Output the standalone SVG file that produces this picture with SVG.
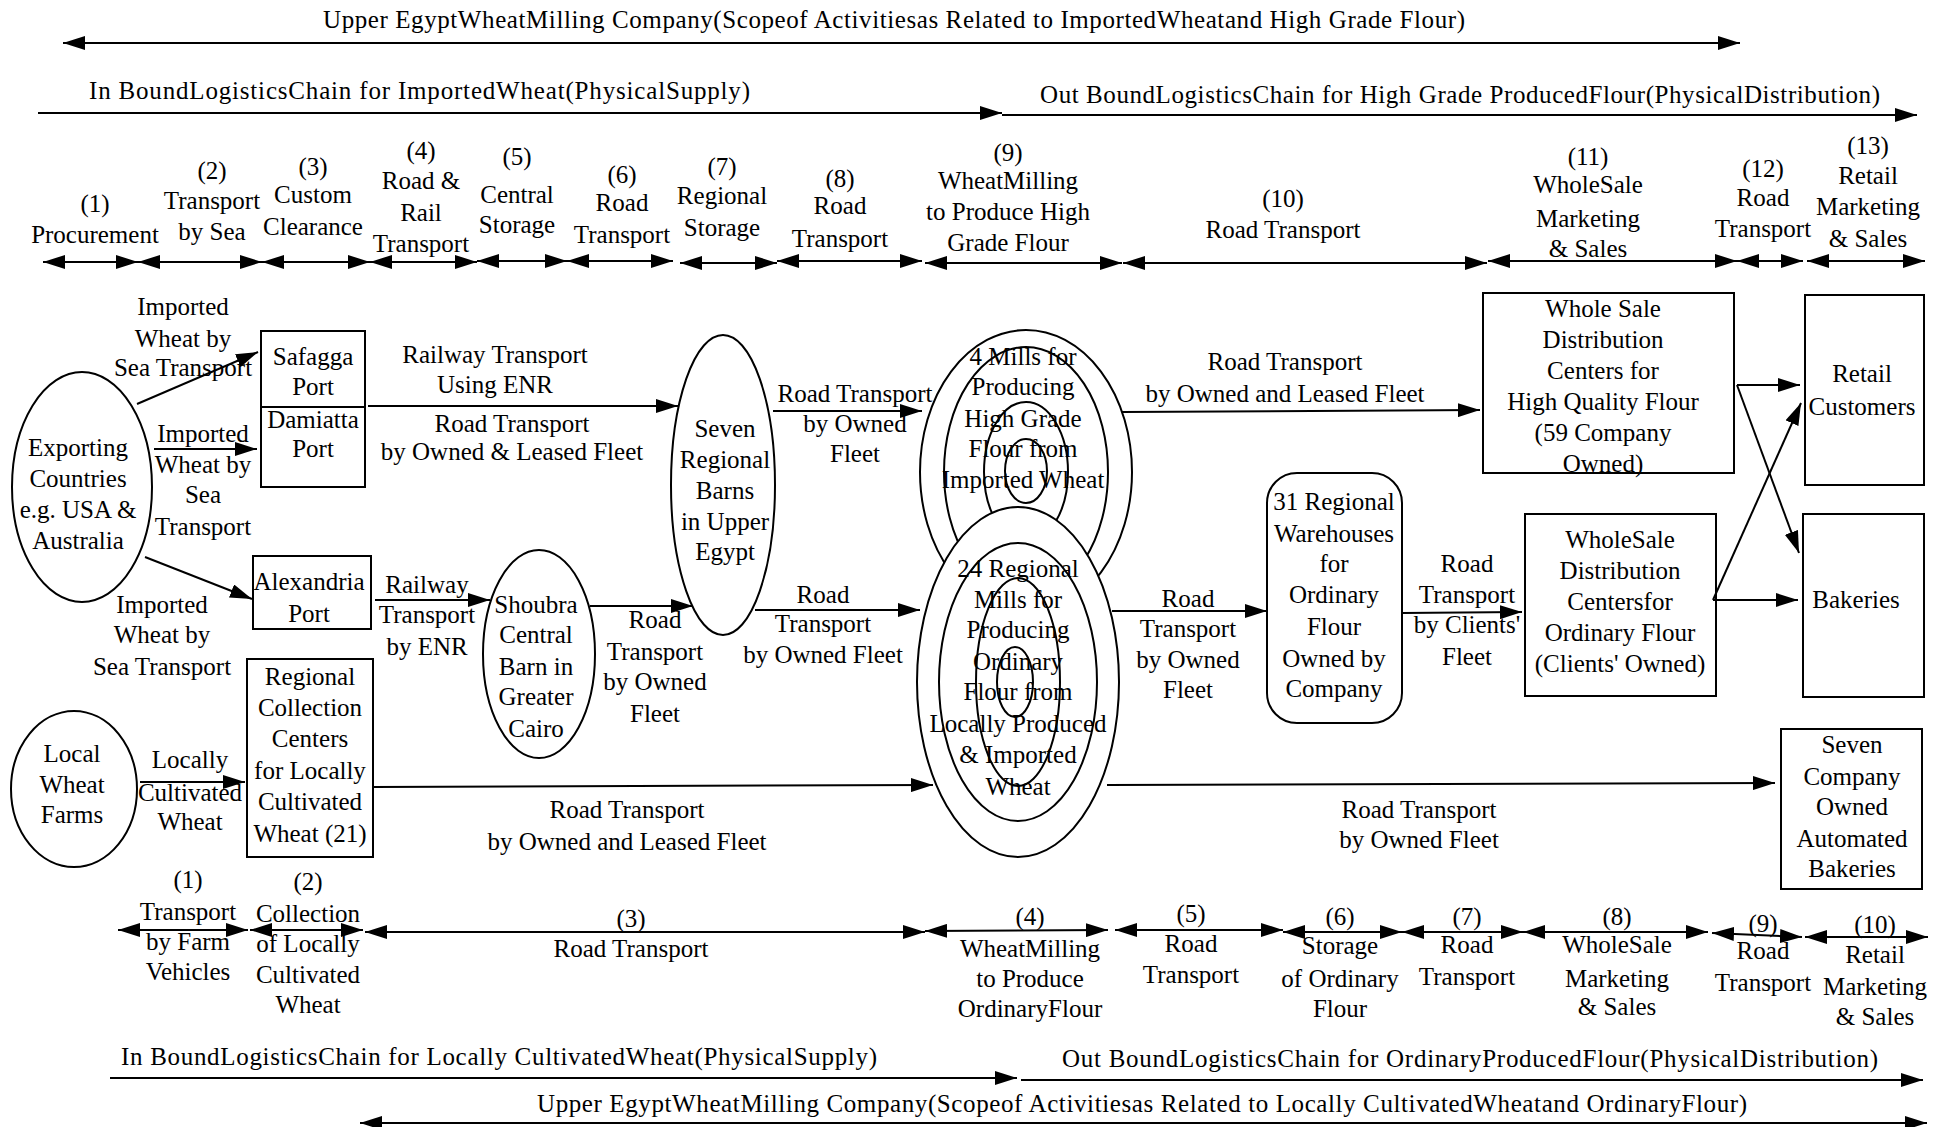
<svg xmlns="http://www.w3.org/2000/svg" width="1950" height="1127" viewBox="0 0 1950 1127">
<defs>
<style>
text{font-family:"Liberation Serif","Times New Roman",serif;font-size:25px;fill:#000;text-anchor:middle}
.st{text-anchor:start}
.ln{fill:none;stroke:#000;stroke-width:2}
.nd{fill:#fff;stroke:#000;stroke-width:2}
.rg{fill:none;stroke:#000;stroke-width:2}
.a{marker-end:url(#ah)}
.aa{marker-start:url(#ah);marker-end:url(#ah)}
</style>
<marker id="ah" markerUnits="userSpaceOnUse" markerWidth="22" markerHeight="14" refX="22" refY="7" orient="auto-start-reverse">
<path d="M0,0 L22,7 L0,14 z" fill="#000"/>
</marker>
</defs>
<rect width="1950" height="1127" fill="#fff"/>

<g id="titles">
<text class="st" x="323" y="28" textLength="1142" lengthAdjust="spacing">Upper EgyptWheatMilling Company(Scopeof Activitiesas Related to ImportedWheatand High Grade Flour)</text>
<text class="st" x="89" y="99" textLength="661" lengthAdjust="spacing">In BoundLogisticsChain for ImportedWheat(PhysicalSupply)</text>
<text class="st" x="1040" y="103" textLength="840" lengthAdjust="spacing">Out BoundLogisticsChain for High Grade ProducedFlour(PhysicalDistribution)</text>
<text class="st" x="121" y="1065" textLength="756" lengthAdjust="spacing">In BoundLogisticsChain for Locally CultivatedWheat(PhysicalSupply)</text>
<text class="st" x="1062" y="1067" textLength="816" lengthAdjust="spacing">Out BoundLogisticsChain for OrdinaryProducedFlour(PhysicalDistribution)</text>
<text class="st" x="537" y="1112" textLength="1210" lengthAdjust="spacing">Upper EgyptWheatMilling Company(Scopeof Activitiesas Related to Locally CultivatedWheatand OrdinaryFlour)</text>
</g>

<g id="stages-top">
<text x="95"><tspan x="95" y="212">(1)</tspan><tspan x="95" y="243">Procurement</tspan></text>
<text><tspan x="212" y="179">(2)</tspan><tspan x="212" y="209">Transport</tspan><tspan x="212" y="240">by Sea</tspan></text>
<text><tspan x="313" y="175">(3)</tspan><tspan x="313" y="203">Custom</tspan><tspan x="313" y="235">Clearance</tspan></text>
<text><tspan x="421" y="159">(4)</tspan><tspan x="421" y="189">Road &amp;</tspan><tspan x="421" y="221">Rail</tspan><tspan x="421" y="252">Transport</tspan></text>
<text><tspan x="517" y="165">(5)</tspan><tspan x="517" y="203">Central</tspan><tspan x="517" y="233">Storage</tspan></text>
<text><tspan x="622" y="183">(6)</tspan><tspan x="622" y="211">Road</tspan><tspan x="622" y="243">Transport</tspan></text>
<text><tspan x="722" y="175">(7)</tspan><tspan x="722" y="204">Regional</tspan><tspan x="722" y="236">Storage</tspan></text>
<text><tspan x="840" y="187">(8)</tspan><tspan x="840" y="214">Road</tspan><tspan x="840" y="247">Transport</tspan></text>
<text><tspan x="1008" y="161">(9)</tspan><tspan x="1008" y="189">WheatMilling</tspan><tspan x="1008" y="220">to Produce High</tspan><tspan x="1008" y="251">Grade Flour</tspan></text>
<text><tspan x="1283" y="207">(10)</tspan><tspan x="1283" y="238">Road  Transport</tspan></text>
<text><tspan x="1588" y="165">(11)</tspan><tspan x="1588" y="193">WholeSale</tspan><tspan x="1588" y="227">Marketing</tspan><tspan x="1588" y="257">&amp; Sales</tspan></text>
<text><tspan x="1763" y="177">(12)</tspan><tspan x="1763" y="206">Road</tspan><tspan x="1763" y="237">Transport</tspan></text>
<text><tspan x="1868" y="154">(13)</tspan><tspan x="1868" y="184">Retail</tspan><tspan x="1868" y="215">Marketing</tspan><tspan x="1868" y="247">&amp; Sales</tspan></text>
</g>

<g id="stages-bottom">
<text><tspan x="188" y="888">(1)</tspan><tspan x="188" y="920">Transport</tspan><tspan x="188" y="950">by Farm</tspan><tspan x="188" y="980">Vehicles</tspan></text>
<text><tspan x="308" y="890">(2)</tspan><tspan x="308" y="922">Collection</tspan><tspan x="308" y="952">of Locally</tspan><tspan x="308" y="983">Cultivated</tspan><tspan x="308" y="1013">Wheat</tspan></text>
<text><tspan x="631" y="927">(3)</tspan><tspan x="631" y="957">Road  Transport</tspan></text>
<text><tspan x="1030" y="925">(4)</tspan><tspan x="1030" y="957">WheatMilling</tspan><tspan x="1030" y="987">to Produce</tspan><tspan x="1030" y="1017">OrdinaryFlour</tspan></text>
<text><tspan x="1191" y="922">(5)</tspan><tspan x="1191" y="952">Road</tspan><tspan x="1191" y="983">Transport</tspan></text>
<text><tspan x="1340" y="925">(6)</tspan><tspan x="1340" y="954">Storage</tspan><tspan x="1340" y="987">of Ordinary</tspan><tspan x="1340" y="1017">Flour</tspan></text>
<text><tspan x="1467" y="925">(7)</tspan><tspan x="1467" y="953">Road</tspan><tspan x="1467" y="985">Transport</tspan></text>
<text><tspan x="1617" y="925">(8)</tspan><tspan x="1617" y="953">WholeSale</tspan><tspan x="1617" y="987">Marketing</tspan><tspan x="1617" y="1015">&amp; Sales</tspan></text>
<text><tspan x="1763" y="932">(9)</tspan><tspan x="1763" y="959">Road</tspan><tspan x="1763" y="991">Transport</tspan></text>
<text><tspan x="1875" y="933">(10)</tspan><tspan x="1875" y="963">Retail</tspan><tspan x="1875" y="995">Marketing</tspan><tspan x="1875" y="1025">&amp; Sales</tspan></text>
</g>

<g id="n-mills-high">
<ellipse class="nd" cx="1026" cy="472" rx="106" ry="142"/>
<ellipse class="rg" cx="1026" cy="472" rx="82" ry="125"/>
<ellipse class="rg" cx="1026" cy="472" rx="42" ry="70"/>
<ellipse class="rg" cx="1026" cy="471" rx="21" ry="32"/>
<text><tspan x="1023" y="365">4 Mills for</tspan><tspan x="1023" y="395">Producing</tspan><tspan x="1023" y="427">High Grade</tspan><tspan x="1023" y="457">Flour from</tspan><tspan x="1023" y="488">Imported Wheat</tspan></text>
</g>

<g id="n-mills-ordinary">
<ellipse class="nd" cx="1018" cy="682" rx="101" ry="175"/>
<ellipse class="rg" cx="1018" cy="682" rx="79" ry="139"/>
<ellipse class="rg" cx="1018" cy="682" rx="42" ry="104"/>
<ellipse class="rg" cx="1015" cy="682" rx="18" ry="35"/>
<text><tspan x="1018" y="577">24 Regional</tspan><tspan x="1018" y="608">Mills for</tspan><tspan x="1018" y="638">Producing</tspan><tspan x="1018" y="670">Ordinary</tspan><tspan x="1018" y="700">Flour from</tspan><tspan x="1018" y="732">Locally Produced</tspan><tspan x="1018" y="763">&amp; Imported</tspan><tspan x="1018" y="795">Wheat</tspan></text>
</g>

<g id="n-exporting">
<ellipse class="nd" cx="82" cy="487" rx="70" ry="115"/>
<text><tspan x="78" y="456">Exporting</tspan><tspan x="78" y="487">Countries</tspan><tspan x="78" y="518">e.g. USA &amp;</tspan><tspan x="78" y="549">Australia</tspan></text>
</g>

<g id="n-ports">
<rect class="nd" x="261" y="331" width="104" height="156"/>
<line class="ln" x1="261" y1="407" x2="365" y2="407"/>
<text><tspan x="313" y="365">Safagga</tspan><tspan x="313" y="395">Port</tspan><tspan x="313" y="428">Damiatta</tspan><tspan x="313" y="457">Port</tspan></text>
</g>

<g id="n-alexandria">
<rect class="nd" x="253" y="556" width="118" height="73"/>
<text><tspan x="309" y="590">Alexandria</tspan><tspan x="309" y="622">Port</tspan></text>
</g>

<g id="n-collection">
<rect class="nd" x="247" y="659" width="126" height="198"/>
<text><tspan x="310" y="685">Regional</tspan><tspan x="310" y="716">Collection</tspan><tspan x="310" y="747">Centers</tspan><tspan x="310" y="779">for Locally</tspan><tspan x="310" y="810">Cultivated</tspan><tspan x="310" y="842">Wheat (21)</tspan></text>
</g>

<g id="n-local">
<ellipse class="nd" cx="74" cy="789" rx="63" ry="78"/>
<text><tspan x="72" y="762">Local</tspan><tspan x="72" y="793">Wheat</tspan><tspan x="72" y="823">Farms</tspan></text>
</g>

<g id="n-shoubra">
<ellipse class="nd" cx="539" cy="654" rx="56" ry="104"/>
<text><tspan x="536" y="613">Shoubra</tspan><tspan x="536" y="643">Central</tspan><tspan x="536" y="675">Barn in</tspan><tspan x="536" y="705">Greater</tspan><tspan x="536" y="737">Cairo</tspan></text>
</g>

<g id="n-barns">
<ellipse class="nd" cx="723" cy="485" rx="52" ry="150"/>
<text><tspan x="725" y="437">Seven</tspan><tspan x="725" y="468">Regional</tspan><tspan x="725" y="499">Barns</tspan><tspan x="725" y="530">in Upper</tspan><tspan x="725" y="560">Egypt</tspan></text>
</g>

<g id="n-wholesale-hq">
<rect class="nd" x="1483" y="293" width="251" height="180"/>
<text><tspan x="1603" y="317">Whole Sale</tspan><tspan x="1603" y="348">Distribution</tspan><tspan x="1603" y="379">Centers for</tspan><tspan x="1603" y="410">High Quality  Flour</tspan><tspan x="1603" y="441">(59 Company</tspan><tspan x="1603" y="472">Owned)</tspan></text>
</g>

<g id="n-warehouses">
<rect class="nd" x="1267" y="473" width="135" height="250" rx="30" ry="30"/>
<text><tspan x="1334" y="510">31 Regional</tspan><tspan x="1334" y="542">Warehouses</tspan><tspan x="1334" y="572">for</tspan><tspan x="1334" y="603">Ordinary</tspan><tspan x="1334" y="635">Flour</tspan><tspan x="1334" y="667">Owned by</tspan><tspan x="1334" y="697">Company</tspan></text>
</g>

<g id="n-wholesale-ord">
<rect class="nd" x="1525" y="514" width="191" height="182"/>
<text><tspan x="1620" y="548">WholeSale</tspan><tspan x="1620" y="579">Distribution</tspan><tspan x="1620" y="610">Centersfor</tspan><tspan x="1620" y="641">Ordinary   Flour</tspan><tspan x="1620" y="672">(Clients' Owned)</tspan></text>
</g>

<g id="n-retail">
<rect class="nd" x="1805" y="295" width="119" height="190"/>
<text><tspan x="1862" y="382">Retail</tspan><tspan x="1862" y="415">Customers</tspan></text>
</g>

<g id="n-bakeries">
<rect class="nd" x="1803" y="514" width="121" height="183"/>
<text x="1856" y="608">Bakeries</text>
</g>

<g id="n-auto-bakeries">
<rect class="nd" x="1781" y="729" width="141" height="160"/>
<text><tspan x="1852" y="753">Seven</tspan><tspan x="1852" y="785">Company</tspan><tspan x="1852" y="815">Owned</tspan><tspan x="1852" y="847">Automated</tspan><tspan x="1852" y="877">Bakeries</tspan></text>
</g>

<g id="connectors">
<line class="ln aa" x1="63" y1="43" x2="1740" y2="43"/>
<line class="ln a" x1="38" y1="113" x2="1002" y2="113"/>
<line class="ln a" x1="1002" y1="115" x2="1917" y2="115"/>
<line class="ln a" x1="110" y1="1078" x2="1017" y2="1078"/>
<line class="ln a" x1="1021" y1="1080" x2="1923" y2="1080"/>
<line class="ln aa" x1="360" y1="1123" x2="1927" y2="1123"/>

<line class="ln aa" x1="43" y1="262" x2="138" y2="262"/>
<line class="ln aa" x1="138" y1="262" x2="262" y2="262"/>
<line class="ln aa" x1="262" y1="262" x2="370" y2="262"/>
<line class="ln aa" x1="370" y1="262" x2="477" y2="262"/>
<line class="ln aa" x1="477" y1="261" x2="567" y2="261"/>
<line class="ln aa" x1="567" y1="261" x2="673" y2="261"/>
<line class="ln aa" x1="680" y1="263" x2="777" y2="263"/>
<line class="ln aa" x1="777" y1="261" x2="922" y2="261"/>
<line class="ln aa" x1="925" y1="263" x2="1122" y2="263"/>
<line class="ln aa" x1="1123" y1="263" x2="1487" y2="263"/>
<line class="ln aa" x1="1488" y1="261" x2="1737" y2="261"/>
<line class="ln aa" x1="1737" y1="261" x2="1803" y2="261"/>
<line class="ln aa" x1="1807" y1="261" x2="1925" y2="261"/>

<line class="ln aa" x1="118" y1="930" x2="248" y2="930"/>
<line class="ln aa" x1="250" y1="930" x2="363" y2="930"/>
<line class="ln aa" x1="365" y1="932" x2="925" y2="932"/>
<line class="ln aa" x1="925" y1="931" x2="1108" y2="930"/>
<line class="ln aa" x1="1115" y1="930" x2="1283" y2="930"/>
<line class="ln aa" x1="1283" y1="932" x2="1402" y2="932"/>
<line class="ln aa" x1="1402" y1="932" x2="1523" y2="932"/>
<line class="ln aa" x1="1523" y1="932" x2="1708" y2="932"/>
<line class="ln aa" x1="1712" y1="933" x2="1802" y2="937"/>
<line class="ln aa" x1="1805" y1="937" x2="1928" y2="937"/>

<line class="ln a" x1="137" y1="404" x2="258" y2="352"/>
<line class="ln a" x1="154" y1="449" x2="257" y2="449"/>
<line class="ln a" x1="145" y1="557" x2="252" y2="599"/>
<line class="ln a" x1="140" y1="782" x2="245" y2="782"/>
<line class="ln a" x1="368" y1="406" x2="678" y2="406"/>
<line class="ln a" x1="375" y1="600" x2="490" y2="600"/>
<line class="ln a" x1="590" y1="606" x2="693" y2="606"/>
<line class="ln a" x1="773" y1="411" x2="922" y2="411"/>
<line class="ln a" x1="755" y1="610" x2="920" y2="610"/>
<line class="ln a" x1="373" y1="787" x2="933" y2="785"/>
<line class="ln a" x1="1122" y1="412" x2="1480" y2="410"/>
<line class="ln a" x1="1112" y1="611" x2="1267" y2="611"/>
<line class="ln a" x1="1402" y1="613" x2="1522" y2="612"/>
<line class="ln a" x1="1737" y1="385" x2="1800" y2="385"/>
<line class="ln a" x1="1737" y1="385" x2="1799" y2="553"/>
<line class="ln a" x1="1713" y1="600" x2="1801" y2="403"/>
<line class="ln a" x1="1713" y1="600" x2="1798" y2="600"/>
<line class="ln a" x1="1107" y1="785" x2="1775" y2="783"/>

<text><tspan x="183" y="315">Imported</tspan><tspan x="183" y="347">Wheat by</tspan><tspan x="183" y="376">Sea  Transport</tspan></text>
<text><tspan x="203" y="442">Imported</tspan><tspan x="203" y="473">Wheat by</tspan><tspan x="203" y="503">Sea</tspan><tspan x="203" y="535">Transport</tspan></text>
<text><tspan x="162" y="613">Imported</tspan><tspan x="162" y="643">Wheat by</tspan><tspan x="162" y="675">Sea  Transport</tspan></text>
<text><tspan x="190" y="768">Locally</tspan><tspan x="190" y="801">Cultivated</tspan><tspan x="190" y="830">Wheat</tspan></text>
<text><tspan x="495" y="363">Railway Transport</tspan><tspan x="495" y="393">Using ENR</tspan></text>
<text><tspan x="512" y="432">Road Transport</tspan><tspan x="512" y="460">by Owned &amp; Leased Fleet</tspan></text>
<text><tspan x="427" y="593">Railway</tspan><tspan x="427" y="623">Transport</tspan><tspan x="427" y="655">by ENR</tspan></text>
<text><tspan x="655" y="628">Road</tspan><tspan x="655" y="660">Transport</tspan><tspan x="655" y="690">by Owned</tspan><tspan x="655" y="722">Fleet</tspan></text>
<text><tspan x="855" y="402">Road Transport</tspan><tspan x="855" y="432">by Owned</tspan><tspan x="855" y="462">Fleet</tspan></text>
<text><tspan x="823" y="603">Road</tspan><tspan x="823" y="632">Transport</tspan><tspan x="823" y="663">by  Owned Fleet</tspan></text>
<text><tspan x="627" y="818">Road  Transport</tspan><tspan x="627" y="850">by Owned and Leased Fleet</tspan></text>
<text><tspan x="1285" y="370">Road Transport</tspan><tspan x="1285" y="402">by Owned and Leased Fleet</tspan></text>
<text><tspan x="1188" y="607">Road</tspan><tspan x="1188" y="637">Transport</tspan><tspan x="1188" y="668">by Owned</tspan><tspan x="1188" y="698">Fleet</tspan></text>
<text><tspan x="1467" y="572">Road</tspan><tspan x="1467" y="603">Transport</tspan><tspan x="1467" y="633">by Clients'</tspan><tspan x="1467" y="665">Fleet</tspan></text>
<text><tspan x="1419" y="818">Road Transport</tspan><tspan x="1419" y="848">by Owned Fleet</tspan></text>
</g>
</svg>
